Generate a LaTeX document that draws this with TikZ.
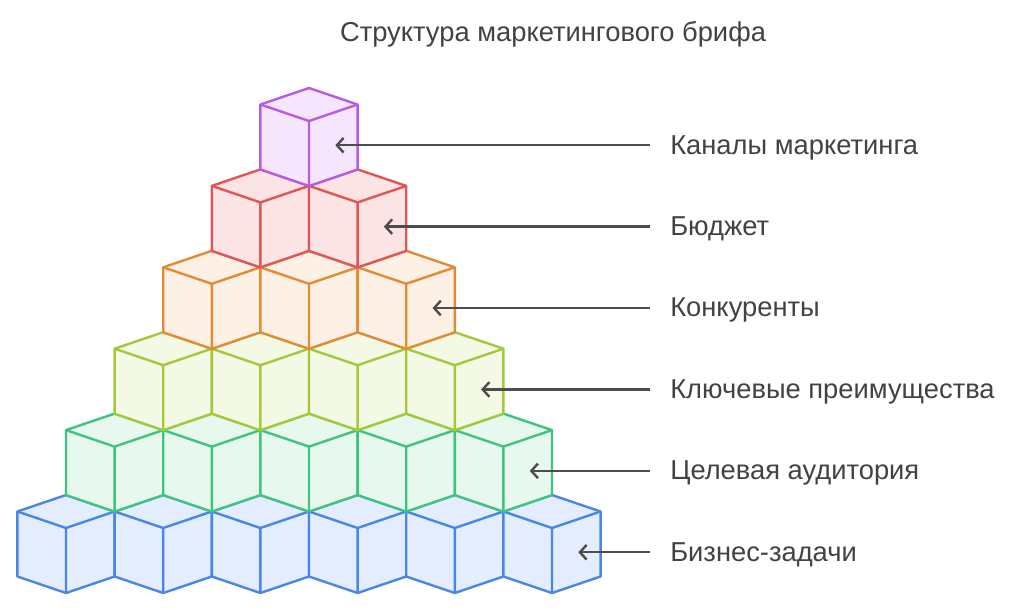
\documentclass[tikz,border=0pt]{standalone}
\usepackage{fontspec}
\setmainfont{Liberation Sans}
\usetikzlibrary{arrows.meta}

\definecolor{txtgray}{RGB}{66,66,66}
\definecolor{arrgray}{RGB}{77,77,77}
\definecolor{bluedge}{RGB}{74,134,232}
\definecolor{bluefill}{RGB}{227,237,253}
\definecolor{grnedge}{RGB}{62,196,126}
\definecolor{grnfill}{RGB}{231,248,239}
\definecolor{limedge}{RGB}{163,201,58}
\definecolor{limfill}{RGB}{244,249,230}
\definecolor{orgedge}{RGB}{227,139,51}
\definecolor{orgfill}{RGB}{253,240,228}
\definecolor{rededge}{RGB}{224,85,85}
\definecolor{redfill}{RGB}{253,228,228}
\definecolor{purpedge}{RGB}{180,92,230}
\definecolor{purpfill}{RGB}{245,230,253}

\tikzset{
  cubeline/.style={line width=1.8pt, line join=round},
  lbl/.style={anchor=west, inner sep=0pt, text=txtgray, font=\fontsize{20.5}{24}\selectfont},
  ptr/.style={draw=arrgray, line width=1.8pt, -{Straight Barb[length=5pt,width=11pt]}}
}

% cube with top vertex at (#1,#2)
\newcommand{\drawcube}[4]{%
  \filldraw[cubeline, draw=#3, fill=#4] (#1,#2) -- ++(48.6,16.5) -- ++(0,65) -- ++(-48.6,16.5)
    -- ++(-48.6,-16.5) -- ++(0,-65) -- cycle;
  \draw[cubeline, draw=#3] (#1-48.6,#2+16.5) -- ++(48.6,16.5) -- ++(48.6,-16.5) (#1,#2+33) -- ++(0,65);
}

\begin{document}
\begin{tikzpicture}[x=0.75pt,y=0.75pt,yscale=-1,xscale=1]
\useasboundingbox (0,0) rectangle (1024,610);

% pyramid, bottom row first
\foreach \r/\ce/\cf in {0/bluedge/bluefill,1/grnedge/grnfill,2/limedge/limfill,3/orgedge/orgfill,4/rededge/redfill,5/purpedge/purpfill}{
  \pgfmathtruncatemacro{\last}{5-\r}
  \foreach \i in {0,...,\last}{
    \pgfmathsetmacro{\cx}{66+\r*48.6+\i*97.2}
    \pgfmathsetmacro{\cy}{495-\r*81.4}
    \drawcube{\cx}{\cy}{\ce}{\cf}
  }
}

% title
\node[lbl, anchor=center] (title) at (553,34) {Структура маркетингового брифа};

% labels and pointers
\foreach \r/\txt in {0/Бизнес-задачи,1/Целевая аудитория,2/Ключевые преимущества,3/Конкуренты,4/Бюджет,5/Каналы маркетинга}{
  \coordinate (t\r) at (578.3-48.6*\r,552.25-81.4*\r);
  \node[lbl] (l\r) at (670,554.5-81.4*\r) {\txt};
  \draw[ptr] (t\r -| l\r.west) ++(-20,0) -- (t\r);
}

\end{tikzpicture}
\end{document}
